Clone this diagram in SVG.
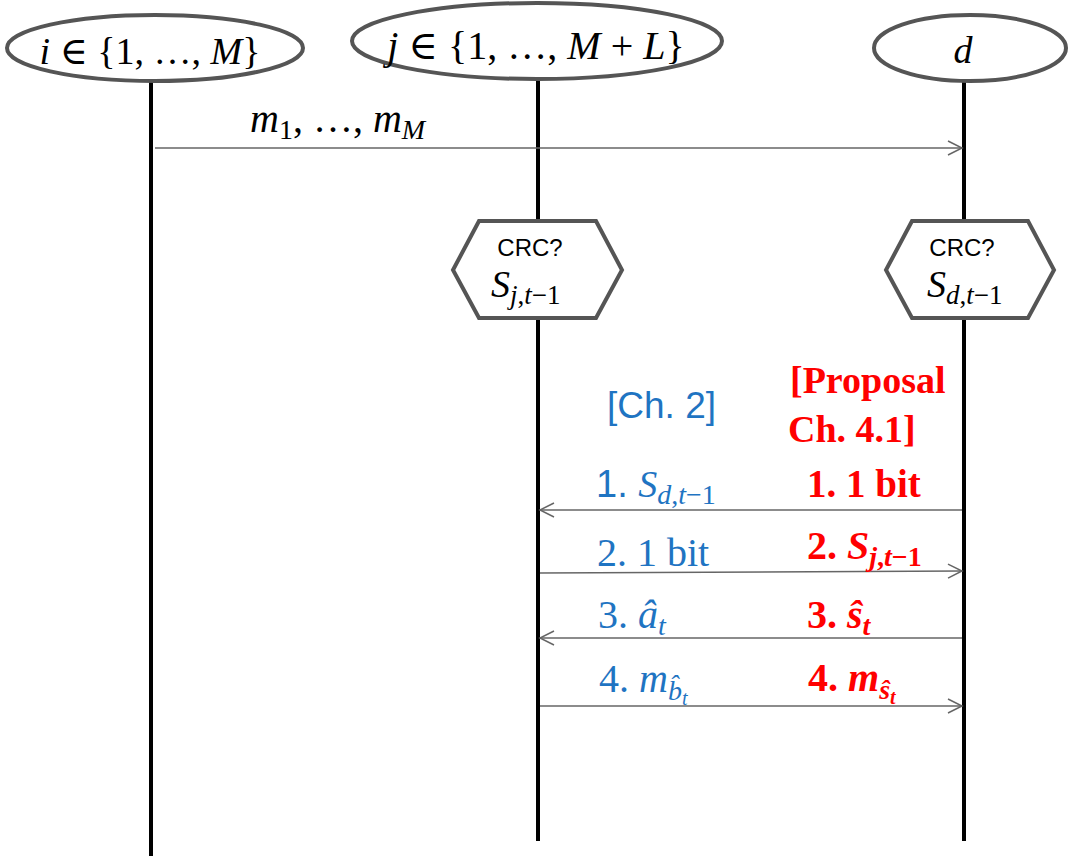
<svg xmlns="http://www.w3.org/2000/svg" width="1070" height="860" viewBox="0 0 1070 860">
<defs>
<style>
.node{fill:#fff;stroke:#555;stroke-width:4}
.life{stroke:#000;stroke-width:4;fill:none}
.msg{stroke:#666;stroke-width:1.5;fill:none}
.math{font-family:"Liberation Serif","DejaVu Serif",serif;fill:#000}
.it{font-style:italic}
.sans{font-family:"Liberation Sans",Arial,sans-serif}
.blue{fill:#1F74C2}
.red{fill:#FF0000;font-weight:bold}
</style>
<marker id="arr" markerUnits="userSpaceOnUse" markerWidth="18" markerHeight="18" refX="15" refY="8" orient="auto">
<path d="M1,1 L15,8 L1,15" fill="none" stroke="#666" stroke-width="1.5"/>
</marker>
</defs>
<rect width="1070" height="860" fill="#fff"/>

<g id="lifelines">
<line class="life" x1="151" y1="82" x2="151" y2="856"/>
<line class="life" x1="538" y1="80" x2="538" y2="841"/>
<line class="life" x1="964" y1="82" x2="964" y2="841"/>
</g>

<g id="node-i">
<ellipse class="node" cx="155" cy="48" rx="148" ry="33"/>
<text class="math" x="150" y="64" font-size="38" text-anchor="middle"><tspan class="it">i</tspan> ∈ {1, …, <tspan class="it">M</tspan>}</text>
</g>

<g id="node-j">
<ellipse class="node" cx="537" cy="41" rx="185" ry="38"/>
<text class="math" x="536" y="59" font-size="40" text-anchor="middle"><tspan class="it">j</tspan> ∈ {1, …, <tspan class="it">M</tspan> + <tspan class="it">L</tspan>}</text>
</g>

<g id="node-d">
<ellipse class="node" cx="970" cy="48" rx="96" ry="33"/>
<text class="math it" x="963" y="63" font-size="38" text-anchor="middle">d</text>
</g>

<g id="check-j">
<polygon class="node" points="453,270 479,221 596,221 622,270 596,318 479,318"/>
<text class="sans" x="530" y="256" font-size="24" text-anchor="middle">CRC?</text>
<text class="math" x="491" y="297" font-size="38"><tspan class="it">S</tspan><tspan font-size="27" dy="7"><tspan class="it">j</tspan>,<tspan class="it">t</tspan>−1</tspan></text>
</g>

<g id="check-d">
<polygon class="node" points="886,270 912,221 1028,221 1054,270 1028,318 912,318"/>
<text class="sans" x="962" y="256" font-size="24" text-anchor="middle">CRC?</text>
<text class="math" x="927" y="297" font-size="38"><tspan class="it">S</tspan><tspan font-size="27" dy="7"><tspan class="it">d</tspan>,<tspan class="it">t</tspan>−1</tspan></text>
</g>

<g id="connectors">
<line class="msg" x1="155" y1="148" x2="962" y2="148" marker-end="url(#arr)"/>
<line class="msg" x1="962" y1="510" x2="540" y2="510" marker-end="url(#arr)"/>
<line class="msg" x1="540" y1="573" x2="962" y2="571" marker-end="url(#arr)"/>
<line class="msg" x1="962" y1="638" x2="540" y2="638" marker-end="url(#arr)"/>
<line class="msg" x1="540" y1="706" x2="962" y2="706" marker-end="url(#arr)"/>
</g>

<g id="labels">
<text class="math" x="250" y="132" font-size="40"><tspan class="it">m</tspan><tspan font-size="28" dy="7">1</tspan><tspan dy="-7">, …, </tspan><tspan class="it">m</tspan><tspan class="it" font-size="28" dy="7">M</tspan></text>

<text class="sans blue" x="607" y="418" font-size="37">[Ch. 2]</text>
<text class="math red" x="790" y="393" font-size="38">[Proposal</text>
<text class="math red" x="788" y="442" font-size="38">Ch. 4.1]</text>

<text class="math blue" x="596" y="497" font-size="38"><tspan class="sans">1. </tspan><tspan class="it">S</tspan><tspan font-size="28" dy="7"><tspan class="it">d</tspan>,<tspan class="it">t</tspan>−1</tspan></text>
<text class="math red" x="807" y="497" font-size="39">1. 1 bit</text>

<text class="math blue" x="597" y="566" font-size="40">2. 1 bit</text>
<text class="math red" x="807" y="559" font-size="40">2. <tspan class="it">S</tspan><tspan font-size="28" dy="7"><tspan class="it">j</tspan>,<tspan class="it">t</tspan>−1</tspan></text>

<text class="math blue" x="598" y="628" font-size="40">3. <tspan class="it">â</tspan><tspan class="it" font-size="28" dy="7">t</tspan></text>
<text class="math red" x="807" y="628" font-size="40">3. <tspan class="it">ŝ</tspan><tspan class="it" font-size="28" dy="7">t</tspan></text>

<text class="math blue" x="599" y="692" font-size="40">4. <tspan class="it">m</tspan><tspan class="it" font-size="28" dy="8">b̂</tspan><tspan class="it" font-size="20" dy="5">t</tspan></text>
<text class="math red" x="808" y="691" font-size="40">4. <tspan class="it">m</tspan><tspan class="it" font-size="28" dy="8">ŝ</tspan><tspan class="it" font-size="20" dy="5">t</tspan></text>
</g>
</svg>
